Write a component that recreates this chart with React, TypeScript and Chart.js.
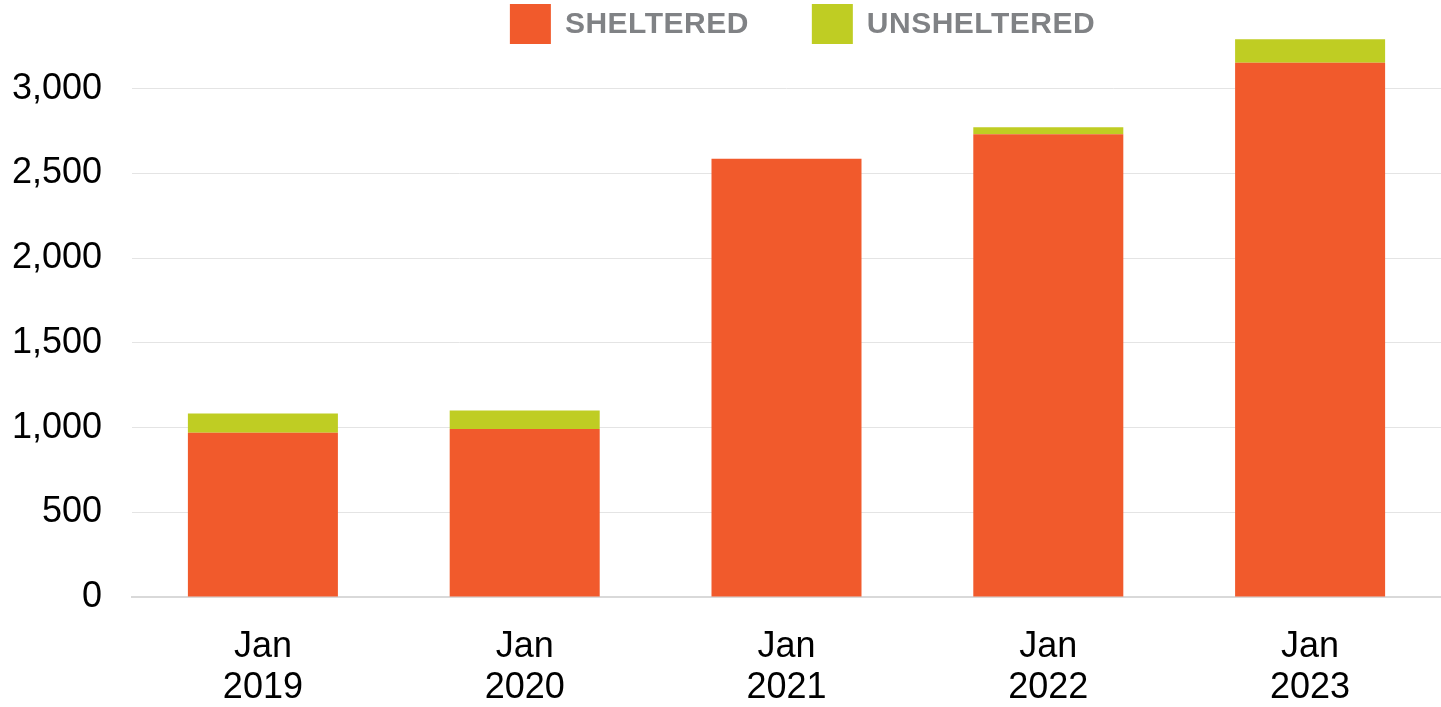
import React, { useEffect, useRef } from "react";
import { Chart, registerables } from "chart.js";

Chart.register(...registerables);

const categories: string[][] = [
  ["Jan", "2019"],
  ["Jan", "2020"],
  ["Jan", "2021"],
  ["Jan", "2022"],
  ["Jan", "2023"],
];
const sheltered: number[] = [969, 992, 2587, 2732, 3154];
const unsheltered: number[] = [114, 109, 0, 41, 138];
const seriesNames: string[] = ["SHELTERED", "UNSHELTERED"];
const seriesColors: string[] = ["#F15A2C", "#BFCD23"];
const yTickValues: number[] = [0, 500, 1000, 1500, 2000, 2500, 3000];
const yMax = 3400;

const FONT = "'Liberation Sans', Arial, sans-serif";

const customLegend = {
  id: "customLegend",
  afterDraw(chart: any) {
    const ctx = chart.ctx as CanvasRenderingContext2D;
    const boxW = 41;
    const boxH = 40;
    const textGap = 14;
    const itemGap = 63;
    ctx.save();
    ctx.font = `bold 30px ${FONT}`;
    (ctx as any).letterSpacing = "0.5px";
    const items = chart.data.datasets.map((ds: any) => ({
      text: ds.label as string,
      color: ds.backgroundColor as string,
      w: boxW + textGap + ctx.measureText(ds.label).width,
    }));
    const total =
      items.reduce((s: number, it: any) => s + it.w, 0) + itemGap * (items.length - 1);
    let x = 802.5 - total / 2;
    const top = 4;
    items.forEach((it: any) => {
      ctx.fillStyle = it.color;
      ctx.fillRect(x, top, boxW, boxH);
      ctx.fillStyle = "#808285";
      ctx.textBaseline = "middle";
      ctx.textAlign = "left";
      ctx.fillText(it.text, x + boxW + textGap, top + boxH / 2 + 1);
      x += it.w + itemGap;
    });
    ctx.restore();
  },
};

export default function App() {
  const canvasRef = useRef<HTMLCanvasElement | null>(null);

  useEffect(() => {
    if (!canvasRef.current) return;
    const chart = new Chart(canvasRef.current, {
      type: "bar",
      data: {
        labels: categories,
        datasets: [
          {
            label: seriesNames[0],
            data: sheltered,
            backgroundColor: seriesColors[0],
            borderWidth: 0,
            barPercentage: 0.573,
            categoryPercentage: 1,
          },
          {
            label: seriesNames[1],
            data: unsheltered,
            backgroundColor: seriesColors[1],
            borderWidth: 0,
            barPercentage: 0.573,
            categoryPercentage: 1,
          },
        ],
      },
      options: {
        animation: false,
        responsive: false,
        maintainAspectRatio: false,
        layout: { padding: { top: 21, right: 0, bottom: 0, left: 0 } },
        plugins: {
          legend: { display: false },
          tooltip: { enabled: false },
        },
        scales: {
          x: {
            stacked: true,
            grid: { display: false, drawTicks: false },
            border: { display: true, color: "#d9d9d9", width: 2 },
            ticks: {
              color: "#000000",
              font: { family: FONT, size: 36, lineHeight: 1.15 },
              padding: 29,
              maxRotation: 0,
              autoSkip: false,
            },
            afterFit: (scale: any) => {
              scale.height = 110;
            },
          },
          y: {
            type: "linear",
            stacked: true,
            min: 0,
            max: yMax,
            afterBuildTicks: (scale: any) => {
              scale.ticks = yTickValues.map((v) => ({ value: v }));
            },
            afterFit: (scale: any) => {
              scale.width = 132;
              scale.paddingTop = 0;
              scale.paddingBottom = 0;
            },
            grid: {
              color: "#e4e4e4",
              lineWidth: 1,
              drawTicks: false,
            },
            border: { display: false },
            ticks: {
              autoSkip: false,
              color: "#000000",
              font: { family: FONT, size: 36 },
              padding: 30,
              callback: (v: any) => Number(v).toLocaleString("en-US"),
            },
          },
        },
      },
      plugins: [customLegend],
    });
    return () => chart.destroy();
  }, []);

  return (
    <div
      style={{
        position: "fixed",
        left: 0,
        top: 0,
        width: 1441,
        height: 707,
        background: "#ffffff",
        overflow: "hidden",
      }}
    >
      <canvas ref={canvasRef} width={1441} height={707} style={{ display: "block" }} />
    </div>
  );
}
